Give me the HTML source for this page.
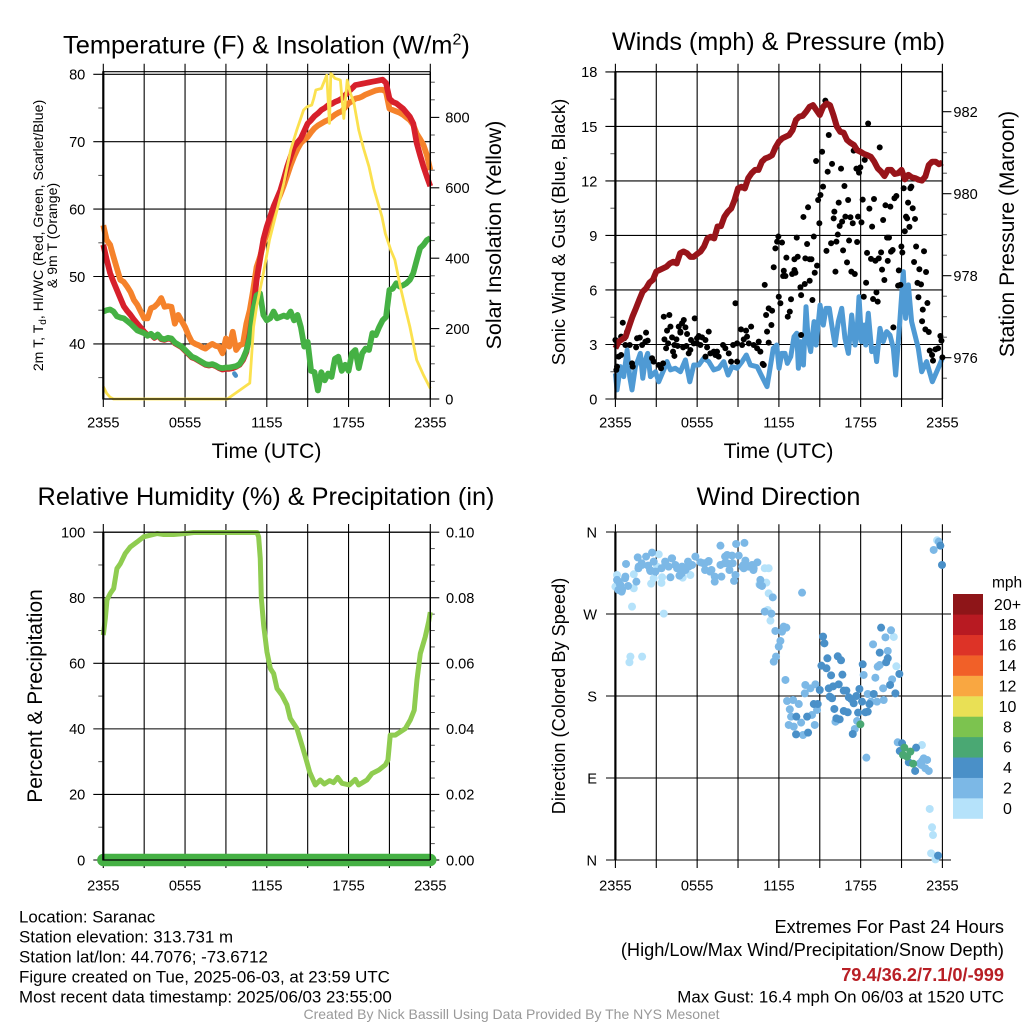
<!DOCTYPE html>
<html lang="en">
<head>
<meta charset="utf-8">
<title>NYS Mesonet Station Meteogram - Saranac</title>
<style>
html,body{margin:0;padding:0;background:#fff;width:1024px;height:1024px;overflow:hidden}
svg{display:block}
text{font-family:"Liberation Sans",Arial,sans-serif;fill:#000}
</style>
</head>
<body>
<svg id="chart" xmlns="http://www.w3.org/2000/svg" width="1024" height="1024" viewBox="0 0 1024 1024">
  <rect x="0" y="0" width="1024" height="1024" fill="#fff"/>
  <g id="p1"></g>
  <g id="p2"></g>
  <g id="p3"></g>
  <g id="p4"></g>
  <g id="cb"></g>

  <text x="63" y="53.5" font-size="25.4">Temperature (F) &amp; Insolation (W/m<tspan dy="-9" font-size="16">2</tspan><tspan dy="9">)</tspan></text>
  <text x="778.5" y="50" font-size="25.2" text-anchor="middle">Winds (mph) &amp; Pressure (mb)</text>
  <text x="266" y="505" font-size="25.3" text-anchor="middle">Relative Humidity (%) &amp; Precipitation (in)</text>
  <text x="778.5" y="505" font-size="25.2" text-anchor="middle">Wind Direction</text>

  <text x="266.5" y="458" font-size="21.2" text-anchor="middle">Time (UTC)</text>
  <text x="778.5" y="458" font-size="21.2" text-anchor="middle">Time (UTC)</text>

  <text transform="translate(43,235.5) rotate(-90)" font-size="14.1" text-anchor="middle">2m T, T<tspan dy="3" font-size="10">d</tspan><tspan dy="-3">, HI/WC (Red, Green, Scarlet/Blue)</tspan></text>
  <text transform="translate(57,235.5) rotate(-90)" font-size="14.1" text-anchor="middle">&amp; 9m T (Orange)</text>
  <text transform="translate(501,235) rotate(-90)" font-size="21.4" text-anchor="middle">Solar Insolation (Yellow)</text>
  <text transform="translate(565,232) rotate(-90)" font-size="18.6" text-anchor="middle">Sonic Wind &amp; Gust (Blue, Black)</text>
  <text transform="translate(1014,234) rotate(-90)" font-size="21" text-anchor="middle">Station Pressure (Maroon)</text>
  <text transform="translate(42,696) rotate(-90)" font-size="21" text-anchor="middle">Percent &amp; Precipitation</text>
  <text transform="translate(565,696) rotate(-90)" font-size="18.2" text-anchor="middle">Direction (Colored By Speed)</text>

  <g font-size="16.9">
    <text x="19" y="922.5">Location: Saranac</text>
    <text x="19" y="942.5">Station elevation: 313.731 m</text>
    <text x="19" y="962.5">Station lat/lon: 44.7076; -73.6712</text>
    <text x="19" y="982.5">Figure created on Tue, 2025-06-03, at 23:59 UTC</text>
    <text x="19" y="1002.5">Most recent data timestamp: 2025/06/03 23:55:00</text>
  </g>
  <g font-size="18.2" text-anchor="end">
    <text x="1004" y="933">Extremes For Past 24 Hours</text>
    <text x="1004" y="956">(High/Low/Max Wind/Precipitation/Snow Depth)</text>
    <text x="1004" y="981" font-weight="bold" style="fill:#b81f25">79.4/36.2/7.1/0/-999</text>
    <text x="1004" y="1002.5" font-size="16.9">Max Gust: 16.4 mph On 06/03 at 1520 UTC</text>
  </g>
  <text x="511.5" y="1019" font-size="14" text-anchor="middle" style="fill:#999">Created By Nick Bassill Using Data Provided By The NYS Mesonet</text>
</svg>

<script>
/* ---------- temperature panel data (uniform 15-minute samples unless hours are listed) ---------- */
const timeTickLabels = ["2355","0555","1155","1755","2355"];
const temperatureTicks = [40,50,60,70,80];
const temperatureMinorTicks = [35,45,55,65,75];
const solarTicks = [0,200,400,600,800];
const solarMinorTicks = [50,100,150,250,300,350,450,500,550,650,700,750,850,900];

const airTempF = [54.7,52.5,50.5,49.2,48,46.8,45.6,44.9,44.3,43.6,43,42.4,41.8,41.3,41.4,40.9,41.3,40.7,40.6,40.8,40.7,40.1,39.8,39.5,39,38.5,38,37.8,37.5,37.2,36.9,36.8,36.9,36.7,36.4,36.2,36.3,36.3,36.4,36.6,36.9,37.6,38.8,41.5,45,49.5,52.5,55.5,57.4,58.9,60.4,61.6,62.8,64.5,66.3,67.8,69.2,69.9,70.5,71.6,72.7,73.2,73.8,74.2,74.7,75,75.4,75.6,75.9,76.1,76.4,76.9,77.4,77.9,78.4,78.5,78.6,78.7,78.8,78.9,79,79.1,79.2,78.7,76.4,75.9,75.7,75.3,74.9,74.3,73.7,72.7,69.8,68,66.3,64.8,63.4];
const nineMeterTempF = [57.6,55.4,54.7,52.9,51.2,49.5,49.2,48.5,47.7,46.5,45.8,44.8,43.8,43.8,45.3,45.5,46,46.8,45.5,45.6,45.5,43,44.3,43.4,42.5,41.3,40.3,40,39.8,39.5,39.3,39.7,40,39.7,39.6,38.6,40.8,39.6,41.8,39.1,39.8,40,43,45,48,51.4,52.9,54.8,56.4,58,59.8,61,62.2,63.5,65,66.5,67.8,68.9,69.8,70.3,70.7,71.4,72,72.4,72.7,73,73.2,73.6,74,74.3,74.5,75.1,75.7,76,76.4,76.5,76.7,77,77.2,77.4,77.6,77.7,77.7,77.4,74.9,74.7,74.5,74.3,74,73.6,73.2,72.5,71.2,70.4,69.5,68,65.8];
const dewPointF = [44.8,45,45.1,44.8,44.1,43.9,43.8,43.4,43,42.5,42,41.8,41.6,41.2,41.5,41,41.4,40.8,40.7,40.9,40.8,40.2,39.9,39.6,39.1,38.6,38.1,37.9,37.6,37.3,37,36.9,37,36.8,36.5,36.4,36.5,36.5,36.6,36.7,37,37.8,39,41,45,47.2,47.5,44.3,43.5,43.8,44.8,43.8,44,44.2,44,44.8,43.5,44.3,42.5,39.6,40.3,36,35.8,33.1,35.8,34.6,35.6,35.1,37.8,38.1,36,36.9,36,38.6,39.1,36.4,38.6,39.3,39.1,41.6,41.3,42.5,43.5,44,48,48.2,49,48.5,48.7,49,49.5,50.5,52.4,54.2,54.7,55.4,55.7];
const windChillHours = [9.62,9.72];
const windChillF = [35.6,35.3];
const solarHours = [0,.25,.5,.75,9.1,10.75,11.03,11.25,11.75,12.2,12.75,13.25,13.75,14.2,14.7,14.95,15.3,15.45,15.6,16,16.4,16.6,16.7,17,17.4,17.65,17.9,18.1,18.4,18.75,19.1,19.5,19.85,20.1,20.45,20.7,21.1,21.4,21.8,22.2,22.5,23,23.5,24];
const solarWm2 = [35,16,5,0,0,45,205,262,357,452,537,613,707,764,821,830,835,854,878,882,920,783,925,911,906,797,906,873,840,764,712,660,598,565,518,470,423,395,319,253,205,111,68,30];

/* ---------- winds panel data ---------- */
const windTicks = [0,3,6,9,12,15,18];
const windMinorTicks = [1.5,4.5,7.5,10.5,13.5,16.5];
const pressureTicks = [976,978,980,982];
const pressureMinorTicks = [975.5,976.5,977,977.5,978.5,979,979.5,980.5,981,981.5,982.5,983];

const pressureMb = [976.23,976.39,976.45,976.51,976.76,977.0,977.2,977.41,977.61,977.69,977.83,977.9,978.1,978.14,978.18,978.22,978.3,978.34,978.3,978.55,978.59,978.55,978.46,978.46,978.53,978.59,978.71,978.91,978.95,978.91,979.2,979.21,979.44,979.56,979.64,979.85,980.13,980.17,980.13,980.38,980.5,980.58,980.58,980.78,980.86,980.89,980.94,981.13,981.27,981.35,981.39,981.43,981.55,981.8,981.88,981.9,982,982.12,982.16,982.04,981.92,982.12,982.2,982.16,981.92,981.64,981.51,981.49,981.31,981.24,981.19,981.06,981.02,980.97,980.94,980.9,980.78,980.62,980.54,980.43,980.58,980.58,980.48,980.5,980.58,980.35,980.46,980.4,980.38,980.34,980.32,980.42,980.7,980.78,980.78,980.72,980.76];
const windHours = [0,.12,.37,.61,.86,1.05,1.22,1.47,1.66,1.83,2.01,2.2,2.37,2.57,2.94,3.18,3.55,3.79,4.04,4.4,4.77,5.14,5.46,5.75,6.12,6.48,6.85,7.22,7.58,7.95,8.27,8.56,8.93,9.3,9.61,9.91,10.4,10.76,11.13,11.35,11.59,11.84,12.01,12.21,12.45,12.62,12.87,13.11,13.31,13.43,13.6,13.8,13.99,14.14,14.33,14.58,14.73,15.02,15.26,15.46,15.7,15.88,16.12,16.36,16.61,16.85,17.1,17.34,17.59,17.71,17.88,18.07,18.27,18.37,18.56,18.81,19.05,19.17,19.42,19.66,19.91,20.15,20.4,20.57,20.76,20.89,21.13,21.3,21.5,21.74,22.23,22.48,22.84,23.26,23.58,24];
const windMph = [1.41,.5,1.78,1.23,2.7,1.23,.5,1.78,2.15,2.51,1.14,2.15,2.51,1.23,1.5,.95,1.6,2.06,1.6,1.69,1.5,2.15,.95,1.87,1.87,2.24,2.06,1.6,1.69,2.06,1.32,1.78,1.69,2.06,2.42,1.87,1.78,1.23,.68,1.69,2.79,2.97,1.69,2.51,2.51,1.96,2.33,3.43,3.62,1.69,3.16,1.87,5.08,3.34,2.61,4.26,2.97,5.17,4.07,4.99,4.99,4.07,2.97,4.26,4.99,3.34,2.51,4.62,2.97,3.34,5.63,3.16,4.07,2.97,4.72,2.61,2.79,2.06,3.89,3.16,3.71,3.52,2.79,1.32,3.16,4.44,7.01,4.44,6.28,4.26,2.79,1.5,2.06,.95,1.5,2.24];
const gustHours = [0,.12,.07,.24,.42,.54,.42,.66,.86,1.05,.73,1.22,1.27,1.59,1.79,1.52,1.96,2.2,2.37,2.25,2.69,2.81,3.18,3.35,3.5,3.55,3.96,4.04,3.79,3.6,4.16,3.87,3.72,4.23,4.33,4.48,4.33,4.57,4.65,4.77,5.02,4.89,5.14,4.77,5.26,5.55,5.82,4.97,5.21,5.5,5.38,5.75,5.99,6.12,6.36,5.99,6.24,6.61,6.85,6.73,6.97,7.22,7.34,7.58,7.46,6.61,7.9,8.07,8.32,8.49,8.64,8.93,8.93,8.81,9.22,9.59,9.96,9.42,9.66,9.3,9.79,10.15,10.52,10.4,10.64,10.89,10.81,10.96,11.06,11.25,11.5,11.13,11.45,11.25,11.62,11.74,11.87,11.96,11.99,12.11,12.23,12.55,12.36,12.31,12.48,13.14,13.38,12.97,13.14,13.21,13.94,14.39,14.26,14.8,14.63,14.26,13.9,13.58,13.63,14.46,12.89,12.8,12.65,13.63,13.31,14.07,14.56,14.97,14.73,15.17,15.9,15.58,15.24,15.05,14.88,14.14,13.8,15.41,15.66,15.49,15.83,16.22,16.32,16.02,16.07,16.39,16.64,16.46,16.88,17.25,17.42,17.08,16.81,16.56,17.15,16.71,17,16.15,17.32,17.57,17.74,17.81,18.06,18.15,18.64,18.98,18.3,17.98,17.69,17.88,17.49,18.55,19.4,18.84,18.47,18.76,19.08,19.33,19.5,19.99,19.57,19.74,18.4,18.23,18.91,19.16,19.25,19.65,19.82,20.18,20.48,20.62,19.94,20.08,20.35,20.23,20.8,20.75,20.92,20.99,21.06,20.4,21.16,21.65,21.72,21.48,21.82,21.33,21.41,21.99,21.58,21.24,22.07,22.65,21.92,22.31,22.8,22.17,22.43,22.24,22.9,22.56,22.51,22.75,23,23.07,23.24,23.31,23.49,23.68,23.85,23.93,24];
const gustMph = [3.25,1.78,1.6,2.33,2.42,4.2,3.43,3.34,3.71,2.97,2.97,1.96,1.78,3.34,3.38,2.84,2.97,3.16,3.21,3.65,2.24,2.06,1.87,1.69,1.96,4.53,4.62,3.98,3.76,3.28,3.39,3.06,2.79,2.61,2.37,3.28,2.97,2.92,3.98,3.71,4.35,4.17,3.94,3.65,3.58,3.25,4.44,2.84,2.92,2.7,2.51,3.06,3.34,3.47,3.39,3.06,2.97,3.25,3.71,2.84,2.51,2.61,2.42,2.33,2.61,2.33,2.97,2.79,2.51,2.06,2.97,3.06,2.06,5.27,3.83,3.76,3.98,3.28,3.43,2.97,3.06,2.97,3.16,2.79,2.61,1.87,1.93,6.28,4.62,4.99,4.86,3.71,4.07,3.1,7.25,8.29,8.66,8.94,5.63,5.27,8.61,7.78,7.06,6.77,6.77,7.69,7.83,6.88,7.1,6.95,7.74,7.69,7.69,7.34,6.95,6.51,6.33,6.15,5.72,5.45,5.49,4.81,4.53,3.52,8.88,8.53,8.94,9.67,13.1,13.61,12.94,12.51,11.69,11.23,10.95,10.55,10.02,16.42,14.53,8.15,8.57,8.66,9.05,9.94,10.31,10.81,9.76,9.52,10.04,10,9.67,10.95,11.72,12.68,8.72,8.18,7.52,7.01,7.01,6.88,8.64,10.04,9.72,10.97,10.48,11.01,13.16,12.75,12.68,12.46,13.67,15.16,13.85,9.49,8.04,7.71,7.61,7.74,8.07,7.6,7.12,6.55,6.4,5.63,5.5,5.87,5.36,9.85,10.66,10.59,11.05,11.17,8.88,8.88,8.2,8.11,7.08,6.24,6.28,8.39,8.06,3.94,11.6,11.6,11.69,10.81,10.5,10.04,9.94,9.91,9.47,9.23,8.39,8.13,7.54,7.14,6.99,6.39,6.31,5.6,5.28,4.92,4.28,3.83,3.69,2.66,2.42,2.11,2.73,2.79,3.47,3.21,2.29];

/* ---------- humidity panel data ---------- */
const humidityTicks = [0,20,40,60,80,100];
const humidityMinorTicks = [10,30,50,70,90];
const precipTicks = ["0.00","0.02","0.04","0.06","0.08","0.10"];
const precipTickValues = [0,0.02,0.04,0.06,0.08,0.10];
const precipMinorTicks = [0.005,0.01,0.015,0.025,0.03,0.035,0.045,0.05,0.055,0.065,0.07,0.075,0.085,0.09,0.095];
const humidityHours = [0,.15,.27,.51,.76,1,1.25,1.61,1.98,2.47,2.96,3.45,3.94,4.43,5.16,6.02,6.63,11.28,11.4,11.52,11.6,11.77,12.01,12.26,12.5,12.75,13.11,13.48,13.72,14.21,14.58,14.83,15.14,15.56,15.92,16.22,16.61,16.9,17.2,17.52,18.06,18.5,18.74,19.35,19.72,20.21,20.7,20.89,21.06,21.43,22.17,22.53,22.82,23.02,23.27,23.63,23.88,24];
const humidityPct = [68.6,73.7,79.3,81.3,82.8,88.9,90.4,93.5,95.5,97,98.6,99.1,99.6,99.3,99.3,99.6,99.9,99.9,98.6,92,79.8,71.6,63.5,58.4,56.9,52.3,50.3,47.3,43.2,40.1,35,31.5,26.9,22.9,24.4,23.2,24.2,23.6,25.2,23.4,22.9,24.6,22.9,24.4,26.4,27.4,29,30.5,38.1,38.1,40.1,42.7,45.7,54.9,63,68.1,72.7,75.6];
const precipHours = [0,6,12,18,24];
const precipInches = [0,0,0,0,0];

/* ---------- wind direction panel data ---------- */
const directionTickLabels = ["N","E","S","W","N"];
const directionTicks = [0,90,180,270,360];
const speedBinLabels = ["0","2","4","6","8","10","12","14","16","18","20+"];
const speedBinColors = ["#b5e2fa","#7cb8e6","#4a90c8","#4aa873","#7cc34f","#e9e055","#f9a741","#f16028","#dd3327","#b81a22","#8e1518"];
const directionHours = [
0,.12,1.22,1.1,1.96,1.03,3.55,1.35,1.35,3.06,3.18,2.62,2.81,3.43,3.38,4.94,5.5,10.96,11.25,10.57,11.08,11.25,11.38,11.18,20.43,20.62,22.5,23.61,23.07,23.24,23.31,23.17,23.49,
.12,.24,.37,.49,.73,.93,.78,1.54,1.64,1.71,1.96,2.25,2.69,2.4,2.57,2.94,2.81,3.67,3.91,4.16,4.04,4.4,4.7,4.89,5.14,5.33,5.63,5.87,6.24,6.56,6.85,7.05,7.29,7.29,7.78,7.71,8.02,8.2,8.56,9.05,7.71,8.86,9.47,8.37,8.61,8.81,8.71,9.3,9.54,9.83,10.15,10.42,10.64,10.76,11.55,10.96,11.45,4.53,5.38,9.42,10.03,
3.65,4.13,3.38,4.62,4.87,5.36,6.46,6.83,6.58,6.95,8.05,8.22,9.4,9.76,10.13,1.69,1.93,2.54,.34,.71,.22,.46,10.62,
11.74,12.11,11.99,11.79,11.62,12.48,12.35,12.55,12.23,13.7,12.6,13.04,13.46,12.8,12.89,12.72,13.09,13.63,14.43,14.63,13.77,13.94,14.31,14.68,13.9,14.8,16.15,17.74,17.57,18.22,19.08,19.25,19.4,18.91,19.82,20.23,19.99,19.65,20.31,19.2,19.69,18.52,18.76,18.42,20.72,22.51,22.34,22.75,23,22.63,22.88,22.46,23.73,23.36,
13.28,14.07,13.26,14.14,14.56,14.85,15,15.66,15.98,16.39,16.76,16.95,17.91,18.96,15.73,15.9,16.07,16.22,16.46,16.76,17.05,17.13,17.3,17.49,17.69,17.81,18.1,18.35,18.64,18.52,17.42,15.24,15.34,15.56,16.32,16.56,15.12,15.49,15.83,16.66,18.15,19.5,19.4,19.99,19.87,20.84,20.55,20.16,20.87,21.04,21.53,22.07,22,23.85,23.97,23.68,
17.98,21.21,21.65,21.11,21.41,21.85];
const directionDegrees = [
300,312.8,278.1,223.2,223.2,217,270.4,298.2,313.6,322,335.5,303.3,309.2,310.3,304.1,309.9,312.8,320.2,320.2,302.6,304.4,292.7,262.7,274.4,244.8,212.6,126.2,350.9,56,35.9,27.4,7.3,.7,
307.4,305.5,301.9,296.4,311,300.8,324.9,305.5,332.2,322,323.8,333,337.4,323.1,317.2,316.5,327.5,325.7,322,331.1,310.3,323.8,312.1,322,318.3,327.5,323.8,333,326.7,325.7,328.2,318.3,311,305.5,311,323.8,325.7,334.8,334.1,334.1,345,346.9,348,318.3,325.7,312.8,306.3,322,328.6,322,320.2,326.7,307.4,300.8,288.3,272.6,270.4,320.2,322,320.2,323.8,
327.5,331,320.2,320.2,314.7,322,325.7,327.5,318.3,316.5,333,325.7,323.8,322,318.3,320.2,325.7,318.3,301.9,309.2,296.4,294.5,301.9,
251.4,240.4,234.2,223.2,217.7,197.6,256.1,255,250.6,293.4,174.5,175.6,171.2,165.4,157.3,148.2,146.4,150.8,159.2,148.2,137.2,192.1,188.4,192.8,182.9,164.7,151.8,152.6,143.8,203.1,200.1,212.2,214,236.7,244.4,252.1,229.4,188.4,198.3,173.8,175.6,182.2,173.8,112.3,129.2,108.7,106.1,100.6,97.7,111.6,109.8,104.3,349.4,340.3,
157.3,157.3,137.9,139.8,171.2,171.2,186.6,188.4,190.6,192.8,185.9,185.9,187.7,182.2,179.3,177.5,165.8,155.5,154.4,163.6,162.1,178.6,176.7,172,180,161.7,173.8,162.1,171.2,162.8,138.3,245.2,237.8,221.4,223.6,219.2,213.3,210.4,202.7,203.4,214.8,255,227.6,221.4,217,204.2,182.9,192.1,119.6,128.1,107.2,123.3,97.7,345,323.8,4.8,
148.9,123.3,118.9,115.3,113.4,105.7];
const directionSpeedMph = [
1,1,1,1,1,1,1,1,1,1,
1,1,1,1,1,1,1,1,1,1,
1,1,1,1,1,1,1,1,1,1,
1,1,1,
3,3,3,3,3,3,3,3,3,3,
3,3,3,3,3,3,3,3,3,3,
3,3,3,3,3,3,3,3,3,3,
3,3,3,3,3,3,3,3,3,3,
3,3,3,3,3,3,3,3,3,3,
3,3,3,3,3,3,3,3,3,3,
3,3,3,3,3,3,3,3,3,3,
3,3,3,3,3,3,3,3,3,3,
3,3,3,3,3,3,3,3,3,3,
3,3,3,3,3,3,3,3,3,3,
3,3,3,3,3,3,3,3,3,3,
3,3,3,3,3,3,3,3,3,3,
3,3,3,3,3,3,3,3,3,3,
3,3,3,3,3,3,3,3,
5,5,5,5,5,5,5,5,5,5,
5,5,5,5,5,5,5,5,5,5,
5,5,5,5,5,5,5,5,5,5,
5,5,5,5,5,5,5,5,5,5,
5,5,5,5,5,5,5,5,5,5,
5,5,5,5,5,5,
7,7,7,7,7,7];

/* ---------- axis functions ---------- */
const xLeft = h => 103.3 + h * 327 / 24;
const xRight = h => 615.4 + h * 327 / 24;
const yTemp = v => 74.3 + (80 - v) * 6.74;
const ySolar = w => 399 - w * 0.352;
const yWind = m => 399 - m * 18.17;
const yPressure = p => 357.7 - (p - 976) * 41;
const yHumidity = r => 860 - r * 3.278;
const yPrecip = i => 860 - i * 3278;
const yDirection = d => 860 - d * 328 / 360;

const NS = "http://www.w3.org/2000/svg";
const lineEl = (parent, x1, y1, x2, y2, width, color, name) => {
  const el = document.createElementNS(NS, "line");
  el.setAttribute("x1", x1);
  el.setAttribute("y1", y1);
  el.setAttribute("x2", x2);
  el.setAttribute("y2", y2);
  el.setAttribute("stroke", color);
  el.setAttribute("stroke-width", width);
  
  
  parent.appendChild(el);
  return el;
};
const textEl = (parent, x, y, str, anchor, name) => {
  const el = document.createElementNS(NS, "text");
  el.setAttribute("x", x);
  el.setAttribute("y", y);
  el.setAttribute("font-size", "14.6");
  el.setAttribute("text-anchor", anchor);
  el.textContent = str;
  
  
  parent.appendChild(el);
  return el;
};
const seriesEl = (parent, hours, values, xf, yf, width, color, name, cap) => {
  const el = document.createElementNS(NS, "polyline");
  const hourAt = i => hours ? hours[i] : i * 24 / (values.length - 1);
  el.setAttribute("points", values.map((v, i) => xf(hourAt(i)).toFixed(2) + "," + yf(v).toFixed(2)).join(" "));
  el.setAttribute("fill", "none");
  el.setAttribute("stroke", color);
  el.setAttribute("stroke-width", width);
  el.setAttribute("stroke-linejoin", "round");
  el.setAttribute("stroke-linecap", cap || "butt");
  
  
  parent.appendChild(el);
  return el;
};
const dotEl = (parent, cx, cy, r, color, name) => {
  const el = document.createElementNS(NS, "circle");
  el.setAttribute("cx", cx.toFixed(2));
  el.setAttribute("cy", cy.toFixed(2));
  el.setAttribute("r", r);
  el.setAttribute("fill", color);
  
  
  parent.appendChild(el);
  return el;
};

const drawTimeAxis = (g, xf, top, bottom, labelY, prefix) => {
  for (let k = 0; k <= 8; k++) {
    const h = k * 3;
    lineEl(g, xf(h), top - 8, xf(h), bottom + 8, 1.1, "#000", prefix + "-time-gridline");
    if (k % 2 === 0) textEl(g, xf(h), labelY, timeTickLabels[k / 2], "middle", prefix + "-time-tick-label");
  }
};
const drawLeftTicks = (g, vals, labels, yf, left, right, minor, prefix) => {
  vals.forEach((v, i) => {
    lineEl(g, left - 10, yf(v), right, yf(v), 1.1, "#000", prefix + "-y-gridline");
    textEl(g, left - 18, yf(v) + 5.3, String(labels[i]), "end", prefix + "-y-tick-label");
  });
  minor.forEach(v => {
    lineEl(g, left - 5, yf(v), left, yf(v), 1, "#555", prefix + "-y-minor-tick");
  });
};
const drawRightTicks = (g, vals, labels, yf, right, minor, labelOffset, prefix) => {
  vals.forEach((v, i) => {
    lineEl(g, right, yf(v), right + 9, yf(v), 1.1, "#000", prefix + "-right-tick");
    textEl(g, right + labelOffset, yf(v) + 5.3, labels[i], "start", prefix + "-right-tick-label");
  });
  minor.forEach(v => {
    if (yf(v) >= 72 && yf(v) <= 399) {
      lineEl(g, right, yf(v), right + 4.5, yf(v), 1, "#555", prefix + "-right-minor-tick");
    }
  });
};
const drawFrame = (g, left, right, top, bottom, prefix) => {
  lineEl(g, left, top, right, top, 1.1, "#000", prefix + "-top-border");
  lineEl(g, left, bottom, right, bottom, 1.2, "#000", prefix + "-bottom-border");
  lineEl(g, right, top, right, bottom, 1.4, "#000", prefix + "-right-border");
  lineEl(g, left, top - 0.5, left, bottom + 0.5, 2.2, "#000", prefix + "-left-border");
};

/* ---------- panel 1: temperature and insolation ---------- */
const p1 = document.getElementById("p1");
drawTimeAxis(p1, xLeft, 71.7, 399, 427.5, "temperature");
drawLeftTicks(p1, temperatureTicks, temperatureTicks, yTemp, 103.3, 430.3, temperatureMinorTicks, "temperature");
drawRightTicks(p1, solarTicks, solarTicks.map(String), ySolar, 430.3, solarMinorTicks, 15, "solar");
seriesEl(p1, null, nineMeterTempF, xLeft, yTemp, 5.8, "#f5822b", "nine-meter-temperature-line");
seriesEl(p1, null, airTempF, xLeft, yTemp, 5.8, "#d7202b", "air-temperature-line");
seriesEl(p1, windChillHours, windChillF, xLeft, yTemp, 4.6, "#4a90c8", "wind-chill-line", "round");
seriesEl(p1, null, dewPointF, xLeft, yTemp, 5.8, "#45b144", "dew-point-line");
seriesEl(p1, solarHours, solarWm2, xLeft, ySolar, 2.8, "#fbe14f", "solar-insolation-line");
drawFrame(p1, 103.3, 430.3, 71.7, 399, "temperature");

/* ---------- panel 2: winds and pressure ---------- */
const p2 = document.getElementById("p2");
drawTimeAxis(p2, xRight, 71.7, 399, 427.5, "winds");
drawLeftTicks(p2, windTicks, windTicks, yWind, 615.4, 942.4, windMinorTicks, "winds");
drawRightTicks(p2, pressureTicks, pressureTicks.map(String), yPressure, 942.4, pressureMinorTicks, 11, "pressure");
seriesEl(p2, windHours, windMph, xRight, yWind, 5, "#4f9ad4", "sonic-wind-line");
gustHours.forEach((h, i) => {
  dotEl(p2, xRight(h), yWind(gustMph[i]), 3, "#000", "wind-gust-point");
});
seriesEl(p2, null, pressureMb, xRight, yPressure, 6, "#98141a", "station-pressure-line");
drawFrame(p2, 615.4, 942.4, 71.7, 399, "winds");

/* ---------- panel 3: humidity and precipitation ---------- */
const p3 = document.getElementById("p3");
drawTimeAxis(p3, xLeft, 532, 860, 890.5, "humidity");
drawLeftTicks(p3, humidityTicks, humidityTicks, yHumidity, 103.3, 430.3, humidityMinorTicks, "humidity");
precipTickValues.forEach((v, i) => {
  lineEl(p3, 430.3, yPrecip(v), 439.3, yPrecip(v), 1.1, "#000", "precip-right-tick");
  textEl(p3, 446, yPrecip(v) + 5.3, precipTicks[i], "start", "precip-right-tick-label");
});
precipMinorTicks.forEach(v => {
  lineEl(p3, 430.3, yPrecip(v), 434.8, yPrecip(v), 1, "#555", "precip-right-minor-tick");
});
seriesEl(p3, humidityHours, humidityPct, xLeft, yHumidity, 5, "#8fcc50", "relative-humidity-line");
seriesEl(p3, precipHours, precipInches, xLeft, yPrecip, 12.4, "#45b144", "precipitation-line", "round");
drawFrame(p3, 103.3, 430.3, 532.2, 860, "humidity");

/* ---------- panel 4: wind direction ---------- */
const p4 = document.getElementById("p4");
drawTimeAxis(p4, xRight, 532.2, 860, 890.5, "direction");
directionTicks.forEach((d, i) => {
  lineEl(p4, 606, yDirection(d), 951, yDirection(d), 1.1, "#000", "direction-y-gridline");
  textEl(p4, 597, yDirection(d) + 5.3, directionTickLabels[i], "end", "direction-y-tick-label");
});
lineEl(p4, 615.4, 532.2, 615.4, 860, 2.2, "#000", "direction-left-border");
directionHours.forEach((h, i) => {
  const bin = Math.floor(directionSpeedMph[i] / 2);
  dotEl(p4, xRight(h), yDirection(directionDegrees[i]), 4, speedBinColors[bin], "wind-direction-point");
});

/* ---------- colorbar ---------- */
const cb = document.getElementById("cb");
const cbTop = 594, cbStep = 224.6 / speedBinColors.length;
speedBinColors.forEach((c, i) => {
  const row = speedBinColors.length - 1 - i;
  const el = document.createElementNS(NS, "rect");
  el.setAttribute("x", 953);
  el.setAttribute("y", cbTop + row * cbStep);
  el.setAttribute("width", 30);
  el.setAttribute("height", cbStep + 0.2);
  el.setAttribute("fill", c);
  
  
  cb.appendChild(el);
  const t = textEl(cb, 1007.5, cbTop + row * cbStep + cbStep / 2 + 5.6, speedBinLabels[i], "middle", "speed-colorbar-label");
  t.setAttribute("font-size", "16");
});
const unit = textEl(cb, 992, 587.5, "mph", "start", "speed-colorbar-unit");
unit.setAttribute("font-size", "15.5");
</script>
</body>
</html>
